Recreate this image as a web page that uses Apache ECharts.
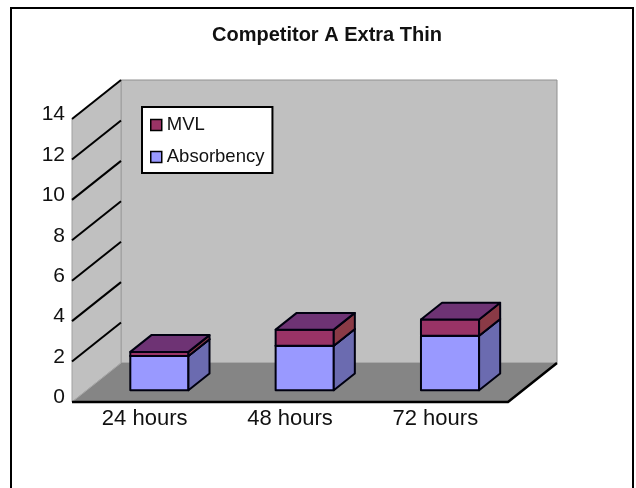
<!DOCTYPE html>
<html>
<head>
<meta charset="utf-8">
<script src="https://cdn.jsdelivr.net/npm/echarts@6/dist/echarts.min.js"></script>
<style>
  html, body { margin: 0; padding: 0; background: #ffffff; }
  #chart { width: 636px; height: 488px; }
</style>
</head>
<body>
<div id="chart"></div>
<script>
// Chart data
const categories = ['24 hours', '48 hours', '72 hours'];
const absorbency = [1.7, 2.2, 2.7];
const mvl = [0.2, 0.8, 0.8];
const yTicks = [0, 2, 4, 6, 8, 10, 12, 14];

const FONT = '"Liberation Sans", Arial, Helvetica, sans-serif';

// Oblique depth of the chart box (px) and where the columns sit within it
const DEPTH = [49, -39];
const BAR_FRONT = 0.3;   // gap between front edge of floor and column front
const BAR_DEPTH = 0.43;  // column depth as a share of the floor depth
const BAR_WIDTH = 0.4;   // column width as a share of the category band

const absColors = { front: '#9999ff', side: '#6b6bb0', top: '#7a7ad0' };
const mvlColors = { front: '#993366', side: '#8a3a46', top: '#6e3374' };

// Walls, floor and the slanted tick lines of the 3-D box
function renderFrame(params, api) {
  const cs = params.coordSys;
  const x0 = cs.x, x1 = cs.x + cs.width;
  const yb = api.coord([0, yTicks[0]])[1];
  const yt = api.coord([0, yTicks[yTicks.length - 1]])[1];
  const dx = DEPTH[0], dy = DEPTH[1];
  const children = [];
  // back wall
  children.push({
    type: 'polygon',
    shape: { points: [[x0 + dx, yb + dy], [x1 + dx, yb + dy], [x1 + dx, yt + dy], [x0 + dx, yt + dy]] },
    style: { fill: '#c0c0c0', stroke: '#909090', lineWidth: 1 }
  });
  // side wall
  children.push({
    type: 'polygon',
    shape: { points: [[x0, yb], [x0 + dx, yb + dy], [x0 + dx, yt + dy], [x0, yt]] },
    style: { fill: '#c0c0c0', stroke: '#a0a0a0', lineWidth: 1 }
  });
  // floor
  children.push({
    type: 'polygon',
    shape: { points: [[x0, yb], [x1, yb], [x1 + dx, yb + dy], [x0 + dx, yb + dy]] },
    style: { fill: '#858585', stroke: null }
  });
  children.push({
    type: 'line',
    shape: { x1: x0, y1: yb, x2: x0 + dx, y2: yb + dy },
    style: { stroke: '#a8a8a8', lineWidth: 1 }
  });
  // slanted tick lines on the side wall
  yTicks.forEach(function (v) {
    if (v === yTicks[0]) return;
    const y = api.coord([0, v])[1];
    children.push({
      type: 'line',
      shape: { x1: x0, y1: y, x2: x0 + dx, y2: y + dy },
      style: { stroke: '#000000', lineWidth: 2 }
    });
  });
  // front and right edges of the floor
  children.push({
    type: 'polyline',
    shape: { points: [[x0, yb], [x1, yb], [x1 + dx, yb + dy]] },
    style: { stroke: '#000000', lineWidth: 2.5, fill: null }
  });
  return { type: 'group', children: children };
}

// One stacked block of a 3-D column (front, side and top faces)
function makeBlockRenderer(below, colors) {
  return function (params, api) {
    const i = api.value(0);
    const v = api.value(1);
    const base = below ? below[i] : 0;
    const pb = api.coord([i, base]);
    const pt = api.coord([i, base + v]);
    const w = api.size([1, 0])[0] * BAR_WIDTH;
    const ox = DEPTH[0] * BAR_FRONT, oy = DEPTH[1] * BAR_FRONT;
    const bx = DEPTH[0] * BAR_DEPTH, by = DEPTH[1] * BAR_DEPTH;
    const xl = pb[0] - w / 2 + ox, xr = xl + w;
    const yB = pb[1] + oy, yT = pt[1] + oy;
    const edge = { stroke: '#000010', lineWidth: 2, lineJoin: 'round' };
    return {
      type: 'group',
      children: [
        {
          type: 'polygon',
          shape: { points: [[xl, yB], [xr, yB], [xr, yT], [xl, yT]] },
          style: Object.assign({ fill: colors.front }, edge)
        },
        {
          type: 'polygon',
          shape: { points: [[xr, yB], [xr + bx, yB + by], [xr + bx, yT + by], [xr, yT]] },
          style: Object.assign({ fill: colors.side }, edge)
        },
        {
          type: 'polygon',
          shape: { points: [[xl, yT], [xr, yT], [xr + bx, yT + by], [xl + bx, yT + by]] },
          style: Object.assign({ fill: colors.top }, edge)
        }
      ]
    };
  };
}

const chart = echarts.init(document.getElementById('chart'), null, { renderer: 'canvas' });

chart.setOption({
  backgroundColor: '#ffffff',
  animation: false,
  textStyle: { fontFamily: FONT },
  title: {
    text: 'Competitor A Extra Thin',
    left: 322,
    top: 20,
    textAlign: 'center',
    textStyle: { fontFamily: FONT, fontSize: 20, fontWeight: 'bold', color: '#111111' }
  },
  graphic: [{
    type: 'rect',
    shape: { x: 11, y: 8, width: 622, height: 484 },
    style: { fill: null, stroke: '#000000', lineWidth: 2 },
    silent: true,
    z: 100
  }],
  legend: {
    data: ['MVL', 'Absorbency'],
    orient: 'vertical',
    left: 142,
    top: 107,
    padding: [8, 8, 6, 8],
    itemGap: 12,
    itemWidth: 11,
    itemHeight: 11,
    icon: 'rect',
    backgroundColor: '#ffffff',
    borderColor: '#000000',
    borderWidth: 2,
    borderRadius: 0,
    itemStyle: { borderColor: '#000000', borderWidth: 1.5 },
    textStyle: { fontFamily: FONT, fontSize: 18.5, color: '#111111', lineHeight: 20 },
    z: 20
  },
  grid: { left: 72, right: 128, top: 119, bottom: 86, containLabel: false },
  xAxis: {
    type: 'category',
    data: categories,
    axisLine: { show: false },
    axisTick: { show: false },
    splitLine: { show: false },
    axisLabel: { fontFamily: FONT, fontSize: 22, color: '#111111', margin: 6 }
  },
  yAxis: {
    type: 'value',
    min: yTicks[0],
    max: yTicks[yTicks.length - 1],
    interval: yTicks[1] - yTicks[0],
    axisLine: { show: false },
    axisTick: { show: false },
    splitLine: { show: false },
    axisLabel: {
      margin: 7,
      formatter: '{t|{value}}',
      rich: {
        t: { fontFamily: FONT, fontSize: 21, color: '#111111', padding: [0, 0, 9, 0] }
      }
    }
  },
  series: [
    {
      name: 'frame',
      type: 'custom',
      silent: true,
      renderItem: renderFrame,
      data: [[0, 0]],
      z: 1
    },
    {
      name: 'Absorbency',
      type: 'custom',
      renderItem: makeBlockRenderer(null, absColors),
      itemStyle: { color: absColors.front },
      encode: { x: 0, y: 1 },
      data: absorbency.map(function (v, i) { return [i, v]; }),
      z: 2
    },
    {
      name: 'MVL',
      type: 'custom',
      renderItem: makeBlockRenderer(absorbency, mvlColors),
      itemStyle: { color: mvlColors.front },
      encode: { x: 0, y: 1 },
      data: mvl.map(function (v, i) { return [i, v]; }),
      z: 3
    }
  ]
});
</script>
</body>
</html>
